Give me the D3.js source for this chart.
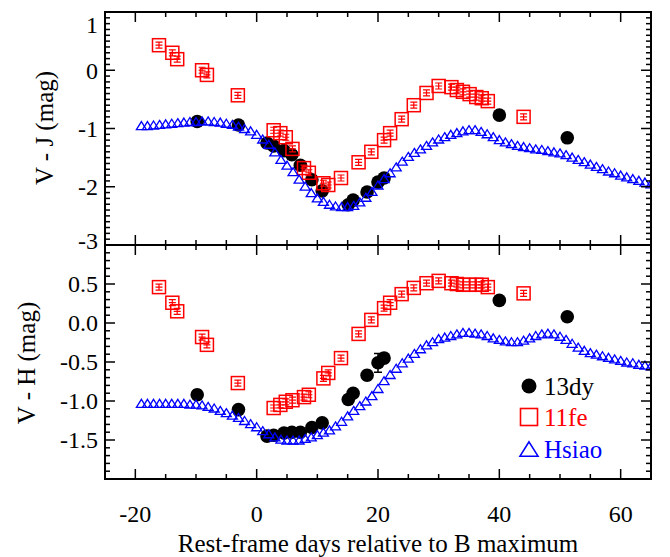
<!DOCTYPE html>
<html>
<head>
<meta charset="utf-8">
<script src="https://cdn.jsdelivr.net/npm/d3@7"></script>
<style>
body { margin: 0; background: #fff; }
text { font-family: "Liberation Serif", "Times New Roman", serif; }
</style>
</head>
<body>
<div id="chart"></div>
<script>
// SN 2013dy
var dy13Days = [-9.8, -3.0, 1.7, 2.8, 4.5, 5.8, 7.2, 9.1, 10.8, 15.1, 15.9, 18.2, 20.0, 21.0, 40.0, 51.2];
var dy13VJ = [-0.88, -0.94, -1.25, -1.30, -1.38, -1.45, -1.63, -1.88, -2.07, -2.31, -2.23, -2.09, -1.92, -1.85, -0.77, -1.16];
var dy13VJerr = [0.04, 0.03, 0.04, 0.04, 0.04, 0.04, 0.04, 0.05, 0.05, 0.04, 0.04, 0.05, 0.08, 0.05, 0.04, 0.04];
var dy13VH = [-0.92, -1.11, -1.45, -1.44, -1.41, -1.40, -1.40, -1.34, -1.28, -0.98, -0.90, -0.67, -0.51, -0.45, 0.29, 0.08];
var dy13VHerr = [0.06, 0.05, 0.05, 0.05, 0.05, 0.05, 0.05, 0.05, 0.05, 0.05, 0.05, 0.06, 0.12, 0.06, 0.04, 0.04];

// SN 2011fe
var fe11Days = [-16.1, -13.9, -13.1, -9.0, -8.2, -3.1, 2.8, 3.9, 4.8, 5.9, 7.8, 8.6, 11.0, 11.8, 13.9, 16.8,
  18.9, 21.0, 22.0, 23.9, 25.9, 28.0, 30.0, 32.1, 33.0, 34.0, 35.1, 36.2, 37.1, 38.1, 44.0];
var fe11VJ = [0.43, 0.30, 0.19, 0.00, -0.08, -0.43, -1.03, -1.08, -1.15, -1.35, -1.68, -1.76, -1.94, -1.97, -1.85, -1.58,
  -1.40, -1.20, -1.08, -0.84, -0.60, -0.39, -0.27, -0.29, -0.34, -0.37, -0.41, -0.46, -0.48, -0.53, -0.80];
var fe11VH = [0.46, 0.26, 0.15, -0.18, -0.28, -0.77, -1.09, -1.05, -1.01, -0.99, -0.95, -0.92, -0.71, -0.64, -0.45, -0.14,
  0.04, 0.19, 0.26, 0.37, 0.45, 0.51, 0.54, 0.51, 0.50, 0.49, 0.49, 0.49, 0.49, 0.46, 0.38];

// Hsiao template
var hsiaoDays = [-19, -18, -17, -16, -15, -14, -13, -12, -11, -10, -9, -8, -7, -6, -5, -4, -3, -2, -1,
  0, 1, 2, 3, 4, 5, 6, 7, 8, 9, 10, 11, 12, 13, 14, 15, 16, 17, 18, 19, 20,
  21, 22, 23, 24, 25, 26, 27, 28, 29, 30, 31, 32, 33, 34, 35, 36, 37, 38, 39, 40,
  41, 42, 43, 44, 45, 46, 47, 48, 49, 50, 51, 52, 53, 54, 55, 56, 57, 58, 59, 60,
  61, 62, 63, 64, 65];
var hsiaoVJ = [-0.95, -0.95, -0.94, -0.93, -0.92, -0.91, -0.90, -0.89, -0.88, -0.88, -0.87, -0.87, -0.88, -0.89, -0.91, -0.93, -0.96, -1.00, -1.04,
  -1.10, -1.18, -1.27, -1.40, -1.53, -1.63, -1.74, -1.87, -1.99, -2.10, -2.19, -2.25, -2.30, -2.33, -2.34, -2.34, -2.32, -2.26, -2.18, -2.08, -1.97,
  -1.86, -1.76, -1.66, -1.56, -1.48, -1.41, -1.35, -1.29, -1.23, -1.18, -1.14, -1.10, -1.07, -1.04, -1.02, -1.02, -1.05, -1.09, -1.14, -1.19,
  -1.23, -1.26, -1.29, -1.31, -1.33, -1.35, -1.36, -1.38, -1.40, -1.42, -1.45, -1.49, -1.53, -1.57, -1.61, -1.65, -1.69, -1.73, -1.76, -1.80,
  -1.83, -1.86, -1.89, -1.92, -1.95];
var hsiaoVH = [-1.03, -1.03, -1.03, -1.03, -1.03, -1.03, -1.03, -1.03, -1.04, -1.04, -1.05, -1.07, -1.09, -1.12, -1.15, -1.18, -1.21, -1.25, -1.29,
  -1.33, -1.38, -1.42, -1.46, -1.49, -1.50, -1.50, -1.50, -1.48, -1.46, -1.43, -1.40, -1.37, -1.32, -1.26, -1.19, -1.12, -1.06, -1.00, -0.93, -0.84,
  -0.74, -0.66, -0.58, -0.51, -0.45, -0.39, -0.33, -0.28, -0.24, -0.20, -0.18, -0.16, -0.14, -0.12, -0.12, -0.13, -0.14, -0.16, -0.19, -0.21,
  -0.23, -0.24, -0.24, -0.22, -0.19, -0.16, -0.14, -0.13, -0.14, -0.17, -0.21, -0.26, -0.31, -0.35, -0.38, -0.40, -0.42, -0.44, -0.46, -0.48,
  -0.50, -0.51, -0.53, -0.54, -0.55];

var xTickLabels = [-20, 0, 20, 40, 60];
var topTickLabels = ["1", "0", "-1", "-2", "-3"];
var topTickValues = [1, 0, -1, -2, -3];
var botTickLabels = ["0.5", "0.0", "-0.5", "-1.0", "-1.5"];
var botTickValues = [0.5, 0.0, -0.5, -1.0, -1.5];
var legendNames = ["13dy", "11fe", "Hsiao"];
var legendColors = ["#000", "#ff0000", "#0000ff"];

var W = 670, H = 557;
var mLeft = 105, mRight = 651, mTop = 12, mMid = 245, mBottom = 479;

var svg = d3.select("#chart").append("svg").attr("width", W).attr("height", H);
svg.append("rect").attr("width", W).attr("height", H).attr("fill", "#fff");

var x = d3.scaleLinear().domain([-25, 65]).range([mLeft, mRight]);
var yTop = d3.scaleLinear().domain([-3, 1]).range([mMid, mTop]);
var yBot = d3.scaleLinear().domain([-2, 1]).range([mBottom, mMid]);

svg.append("clipPath").attr("id", "clip").append("rect")
  .attr("x", mLeft).attr("y", mTop).attr("width", mRight - mLeft).attr("height", mBottom - mTop);

function triPath(s) {
  var h = s * 0.8;
  return "M0," + (-h / 2) + "L" + (s / 2) + "," + (h / 2) + "L" + (-s / 2) + "," + (h / 2) + "Z";
}

function drawPanel(y, tickVals, tickText, v13, err13, v11, vH, labelOffsets) {
  var g = svg.append("g").attr("clip-path", "url(#clip)");

  // 13dy circles with error bars
  var c = g.append("g").attr("stroke", "#000").attr("stroke-width", 1.5);
  dy13Days.forEach(function (d, i) {
    var lo = y(v13[i] - err13[i]), hi = y(v13[i] + err13[i]);
    c.append("path").attr("fill", "none")
      .attr("d", "M" + x(d) + "," + lo + "V" + hi + "M" + (x(d) - 4) + "," + lo + "h8M" + (x(d) - 4) + "," + hi + "h8");
    c.append("circle").attr("cx", x(d)).attr("cy", y(v13[i])).attr("r", 6.8).attr("fill", "#000").attr("stroke", "none");
  });

  // 11fe squares
  var s = g.append("g").attr("stroke", "#ff0000").attr("fill", "none").attr("stroke-width", 1.5);
  fe11Days.forEach(function (d, i) {
    var cx = x(d), cy = y(v11[i]);
    s.append("rect").attr("x", cx - 6.5).attr("y", cy - 6.5).attr("width", 13).attr("height", 13);
    s.append("path").attr("stroke-width", 1.2)
      .attr("d", "M" + (cx - 3.5) + "," + (cy - 3) + "h7M" + (cx - 3.5) + "," + (cy + 3) + "h7M" +
        (cx - 3.5) + "," + cy + "h7M" + cx + "," + (cy - 3) + "v6");
  });

  // Hsiao template
  g.append("g").selectAll("path").data(hsiaoDays).enter().append("path")
    .attr("d", triPath(10))
    .attr("transform", function (d, i) { return "translate(" + x(d) + "," + y(vH[i]) + ")"; })
    .attr("fill", "none").attr("stroke", "#0000ff").attr("stroke-width", 1.3);

  var y0 = y.range()[0], y1 = y.range()[1];
  var ax = svg.append("g").attr("stroke", "#000").attr("stroke-width", 1.5);
  // x ticks, top and bottom edge of the panel
  d3.range(-25, 66, 5).forEach(function (t) {
    var len = (t % 20 === 0) ? 10 : 5;
    ax.append("line").attr("x1", x(t)).attr("x2", x(t)).attr("y1", y0).attr("y2", y0 - len);
    ax.append("line").attr("x1", x(t)).attr("x2", x(t)).attr("y1", y1).attr("y2", y1 + len);
  });
  // y ticks, minor every 0.1
  var dom = y.domain();
  var n = Math.round((dom[1] - dom[0]) * 10);
  for (var k = 0; k <= n; k++) {
    var v = dom[0] + k / 10;
    var major = tickVals.some(function (t) { return Math.abs(t - v) < 1e-6; });
    var len = major ? 10 : 5;
    ax.append("line").attr("x1", mLeft).attr("x2", mLeft + len).attr("y1", y(v)).attr("y2", y(v));
    ax.append("line").attr("x1", mRight).attr("x2", mRight - len).attr("y1", y(v)).attr("y2", y(v));
  }
  // frame
  svg.append("rect").attr("x", mLeft).attr("y", y1).attr("width", mRight - mLeft).attr("height", y0 - y1)
    .attr("fill", "none").attr("stroke", "#000").attr("stroke-width", 2);

  // y tick labels
  svg.append("g").selectAll("text").data(tickVals).enter().append("text")
    .attr("x", 98).attr("y", function (d, i) { return y(d) + labelOffsets[i]; })
    .attr("dy", "0.35em").attr("text-anchor", "end").attr("font-size", 24)
    .text(function (d, i) { return tickText[i]; });
}

drawPanel(yTop, topTickValues, topTickLabels, dy13VJ, dy13VJerr, fe11VJ, hsiaoVJ, [13, 0, 0, 0, -4]);
drawPanel(yBot, botTickValues, botTickLabels, dy13VH, dy13VHerr, fe11VH, hsiaoVH, [0, 0, 0, 0, 0]);

// x tick labels
svg.append("g").selectAll("text").data(xTickLabels).enter().append("text")
  .attr("x", function (d) { return x(d); }).attr("y", 522)
  .attr("text-anchor", "middle").attr("font-size", 24)
  .text(function (d) { return d; });

// axis titles
svg.append("text").attr("x", (mLeft + mRight) / 2).attr("y", 552).attr("text-anchor", "middle")
  .attr("font-size", 25).text("Rest-frame days relative to B maximum");
svg.append("text").attr("transform", "translate(53,128) rotate(-90)").attr("text-anchor", "middle")
  .attr("font-size", 25).text("V - J (mag)");
svg.append("text").attr("transform", "translate(35,363) rotate(-90)").attr("text-anchor", "middle")
  .attr("font-size", 25).text("V - H (mag)");

// legend
var legY = [386, 417, 449];
var leg = svg.append("g");
leg.append("circle").attr("cx", 529).attr("cy", legY[0]).attr("r", 7.5).attr("fill", legendColors[0]);
leg.append("rect").attr("x", 529 - 8.5).attr("y", legY[1] - 8.5).attr("width", 17).attr("height", 17)
  .attr("fill", "none").attr("stroke", legendColors[1]).attr("stroke-width", 1.6);
leg.append("path").attr("d", triPath(18)).attr("transform", "translate(529," + legY[2] + ")")
  .attr("fill", "none").attr("stroke", legendColors[2]).attr("stroke-width", 1.6);
leg.selectAll("text").data(legendNames).enter().append("text")
  .attr("x", 544).attr("y", function (d, i) { return legY[i]; }).attr("dy", "0.36em")
  .attr("font-size", 25).attr("fill", function (d, i) { return legendColors[i]; })
  .text(function (d) { return d; });
</script>
</body>
</html>
